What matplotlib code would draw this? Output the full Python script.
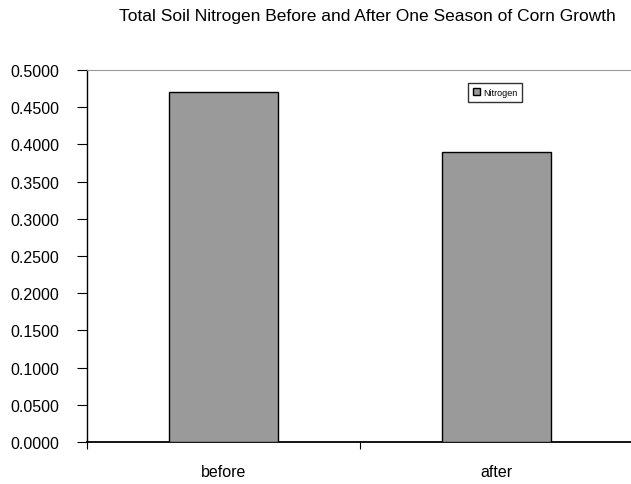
import matplotlib
matplotlib.use('Agg')
from matplotlib import pyplot as plt
import numpy as np

plt.rcParams['font.family'] = ['Liberation Sans', 'DejaVu Sans']

# total soil nitrogen per sampling time
categories = ['before', 'after']
nitrogen = [0.4705, 0.3900]
series_name = 'Nitrogen'
y_ticks = np.arange(0, 0.5001, 0.05)

fig = plt.figure(figsize=(6.31, 4.85), dpi=100)
ax = fig.add_axes([87 / 631, (485 - 443) / 485, 546 / 631, 372 / 485])

x = np.arange(len(categories))
ax.bar(x, nitrogen, width=0.40, color='#9a9a9a', edgecolor='black',
       linewidth=1.0, label=series_name, zorder=3)

ax.set_xlim(-0.5, len(categories) - 0.5)
ax.set_ylim(0, 0.5)
ax.set_yticks(y_ticks)
ax.set_yticklabels(['%.4f' % v for v in y_ticks], fontsize=11.5)

# category labels centred, tick marks between categories
ax.set_xticks(x)
ax.set_xticklabels(categories, fontsize=11.5)
ax.tick_params(axis='x', length=0, pad=16)
ax.set_xticks(np.arange(-0.5, len(categories)), minor=True)
ax.tick_params(axis='x', which='minor', length=5, direction='out', width=0.8)
ax.tick_params(axis='y', length=7, direction='out', width=0.8, pad=13)

ax.spines['top'].set_color('#9a9a9a')
ax.spines['right'].set_visible(False)
ax.spines['left'].set_linewidth(1.0)
ax.spines['bottom'].set_linewidth(1.3)

leg = ax.legend(loc='upper left', bbox_to_anchor=((468 - 87) / 546, 1 - 13 / 372),
                bbox_transform=ax.transAxes, fontsize=6.5, frameon=True, fancybox=False,
                handlelength=0.8, handleheight=0.8, handletextpad=0.3,
                borderpad=0.55, borderaxespad=0)
leg.get_frame().set_edgecolor('black')
leg.get_frame().set_linewidth(1.0)

fig.text(367 / 631, 1 - 17 / 485, 'Total Soil Nitrogen Before and After One Season of Corn Growth',
         ha='center', va='center', fontsize=12.5)

fig.savefig('out.png', dpi=100)
